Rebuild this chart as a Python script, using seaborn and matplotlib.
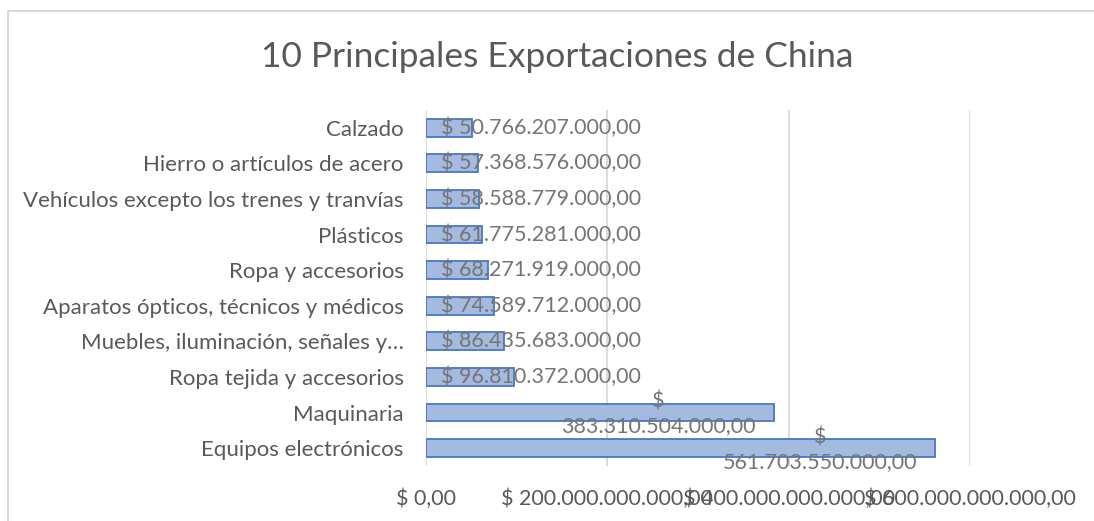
import pandas as pd
import matplotlib
matplotlib.use("Agg")
import matplotlib.pyplot as plt
import seaborn as sns
from matplotlib.patches import Rectangle

# Data (USD)
categories = [
    "Calzado",
    "Hierro o artículos de acero",
    "Vehículos excepto los trenes y tranvías",
    "Plásticos",
    "Ropa y accesorios",
    "Aparatos ópticos, técnicos y médicos",
    "Muebles, iluminación, señales y…",
    "Ropa tejida y accesorios",
    "Maquinaria",
    "Equipos electrónicos",
]
values = [
    50766207000, 57368576000, 58588779000, 61775281000, 68271919000,
    74589712000, 86435683000, 96810372000, 383310504000, 561703550000,
]
x_ticks = [0, 200e9, 400e9, 600e9]
title = "10 Principales Exportaciones de China"


def money(v):
    s = f"{v:,.2f}"
    return "$ " + s.replace(",", "X").replace(".", ",").replace("X", ".")


sns.set_theme(style="white")
plt.rcParams["font.family"] = ["Lato", "DejaVu Sans"]

text_dark = "#595959"
text_val = "#757575"

fig = plt.figure(figsize=(10.94, 5.21), dpi=100)
ax = fig.add_axes([0.3894, 0.1056, 0.4973, 0.6833])

df = pd.DataFrame({"categoria": categories, "valor": values})
sns.barplot(data=df, x="valor", y="categoria", orient="h", width=0.5,
            color="#a4bade", edgecolor="#4a76c4", linewidth=1.3,
            saturation=1, ax=ax)

ax.set_xlim(0, 600e9)
ax.set_xticks(x_ticks)
ax.set_xticklabels([money(t) for t in x_ticks], color=text_dark, fontsize=15.5)
ax.tick_params(axis="x", length=0, pad=16)
ax.tick_params(axis="y", length=0, pad=16, labelsize=16, labelcolor=text_dark)
ax.set_xlabel("")
ax.set_ylabel("")
ax.grid(axis="x", color="#d9d9d9", linewidth=1.3)
ax.set_axisbelow(True)
for sp in ax.spines.values():
    sp.set_visible(False)

# value labels, Excel style
for i, v in enumerate(values):
    if v > 200e9:
        ax.annotate(money(v).replace("$ ", "$\n"), xy=(v, i), xytext=(-13, -1),
                    textcoords="offset points", ha="right", va="center",
                    multialignment="center", linespacing=1.3,
                    fontsize=15.5, color=text_val)
    else:
        ax.annotate(money(v), xy=(0, i), xytext=(11, 0),
                    textcoords="offset points", ha="left", va="center",
                    fontsize=15.5, color=text_val)

fig.text(0.509, 0.89, title, ha="center", va="center", fontsize=25.5, color=text_dark)

# chart border (only top and left edges visible in frame)
fig.patches.append(Rectangle((8 / 1094, -0.1), 1.2, 1.1 - 11 / 521,
                             transform=fig.transFigure, fill=False,
                             edgecolor="#d9d9d9", linewidth=1.5))

fig.savefig("out.png", dpi=100)
